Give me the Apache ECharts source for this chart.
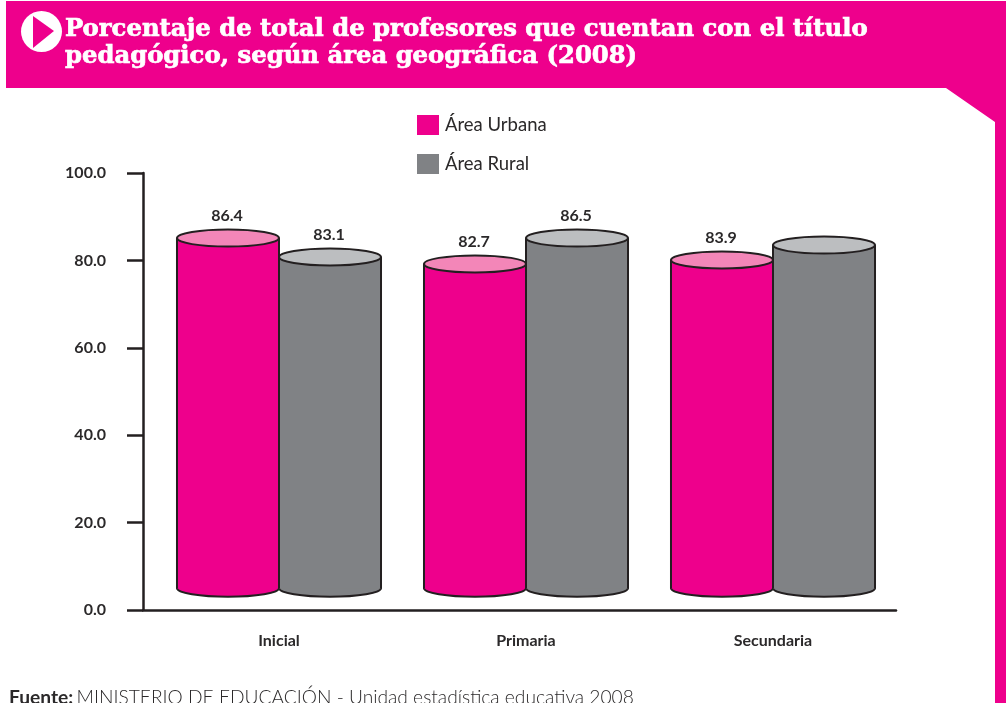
<!DOCTYPE html>
<html><head><meta charset="utf-8">
<style>html,body{margin:0;padding:0;background:#fff;overflow:hidden}#c{width:1006px;height:703px}</style>
<script src="https://cdn.jsdelivr.net/npm/echarts@6/dist/echarts.min.js"></script>
</head><body><div id="c"></div>
<script>
const categories = ['Inicial', 'Primaria', 'Secundaria'];
// Height of each cylinder's top
const urbanaTops = [85.1, 79.2, 80.1];
const ruralTops = [80.8, 85.1, 83.5];
// Numbers printed above the cylinders (the last rural one has none)
const urbanaLabels = ['86.4', '82.7', '83.9'];
const ruralLabels = ['83.1', '86.5', ''];
const cylinderBase = 5;
const yTicks = {min: 0, max: 100, interval: 20};

const PINK = '#EE008C', PINK_TOP = '#F386B8', GRAY = '#808285', GRAY_TOP = '#BCBEC0', INK = '#231F20', TEXT = '#2B292A';
const FONT = 'Lato, "Open Sans", sans-serif';

function cylinder(side, labels, topColor) {
  return function (params, api) {
    const i = api.value(0), band = api.size([1, 0])[0];
    const w = band * 0.413, rx = w / 2, ry = 8.5;
    const c = api.coord([i, api.value(1)]);
    const b = api.coord([i, cylinderBase]);
    const cx = c[0] + side * rx, top = c[1], bot = b[1];
    const fill = api.visual('color');
    const ln = {stroke: INK, lineWidth: 2};
    return {type: 'group', children: [
      {type: 'ellipse', shape: {cx, cy: bot, rx, ry}, style: {fill, ...ln}},
      {type: 'rect', shape: {x: cx - rx, y: top, width: w, height: bot - top}, style: {fill}},
      {type: 'line', shape: {x1: cx - rx, y1: top, x2: cx - rx, y2: bot}, style: ln},
      {type: 'line', shape: {x1: cx + rx, y1: top, x2: cx + rx, y2: bot}, style: ln},
      {type: 'ellipse', shape: {cx, cy: top, rx, ry}, style: {fill: topColor, ...ln}},
      {type: 'text', style: {x: cx - 1, y: top - 22, text: labels[i], fill: TEXT, font: 'bold 16px ' + FONT, textAlign: 'center', textVerticalAlign: 'middle'}}
    ]};
  };
}

const chart = echarts.init(document.getElementById('c'), null, {renderer: 'canvas'});
chart.setOption({
  animation: false,
  backgroundColor: '#fff',
  title: {
    left: 60, top: 11,
    text: 'Porcentaje de total de profesores que cuentan con el título\npedagógico, según área geográfica (2008)',
    textStyle: {fontFamily: '"DejaVu Serif"', fontWeight: 'bold', fontSize: 24.3, lineHeight: 27, color: '#fff', textBorderColor: '#fff', textBorderWidth: 0.7}
  },
  legend: {
    orient: 'vertical', left: 412, top: 110, itemWidth: 22, itemHeight: 20, itemGap: 19,
    itemStyle: {borderWidth: 0},
    textStyle: {fontFamily: FONT, fontSize: 18.5, color: TEXT, padding: [0, 0, 0, 1]},
    data: [{name: 'Área Urbana', icon: 'rect'}, {name: 'Área Rural', icon: 'rect'}]
  },
  grid: [
    {left: 155.5, right: 1006 - 896.5, top: 173, bottom: 93},
    {left: 143, right: 1006 - 896, top: 173, bottom: 93}
  ],
  xAxis: [
    {type: 'category', gridIndex: 0, data: categories,
      axisLine: {show: false}, axisTick: {show: false},
      axisLabel: {margin: 23, fontFamily: FONT, fontWeight: 'bold', fontSize: 16, color: TEXT}},
    {type: 'value', gridIndex: 1, min: 0, max: 1, show: true,
      axisLine: {show: true, lineStyle: {color: INK, width: 2.5}}, axisTick: {show: false}, axisLabel: {show: false}, splitLine: {show: false}}
  ],
  yAxis: [
    {type: 'value', gridIndex: 0, ...yTicks, show: false},
    {type: 'value', gridIndex: 1, ...yTicks,
      axisLine: {show: true, lineStyle: {color: INK, width: 2.5}},
      axisTick: {show: true, length: 16, lineStyle: {color: INK, width: 2.5}},
      axisLabel: {margin: 37, fontFamily: FONT, fontWeight: 'bold', fontSize: 16, color: TEXT, formatter: v => v.toFixed(1)},
      splitLine: {show: false}}
  ],
  series: [
    {type: 'custom', name: 'Área Urbana', xAxisIndex: 0, yAxisIndex: 0, itemStyle: {color: PINK},
      renderItem: cylinder(-1, urbanaLabels, PINK_TOP), data: urbanaTops.map((v, i) => [i, v]), z: 3},
    {type: 'custom', name: 'Área Rural', xAxisIndex: 0, yAxisIndex: 0, itemStyle: {color: GRAY},
      renderItem: cylinder(1, ruralLabels, GRAY_TOP), data: ruralTops.map((v, i) => [i, v]), z: 3}
  ],
  graphic: [
    {type: 'polygon', silent: true, z: -1, shape: {points: [[6, 1], [1006, 1], [1006, 703], [995, 703], [995, 122], [946, 88], [6, 88]]}, style: {fill: PINK}},
    {type: 'circle', silent: true, shape: {cx: 41.5, cy: 31.5, r: 20.5}, style: {fill: '#fff'}},
    {type: 'polygon', silent: true, shape: {points: [[33, 16], [54, 31], [33, 48]]}, style: {fill: PINK}},
    {type: 'text', silent: true, left: 9, top: 688, style: {
      rich: {b: {font: 'bold 19.2px ' + FONT, fill: TEXT}, n: {font: '300 19.2px ' + FONT, fill: TEXT}},
      text: '{b|Fuente:} {n|MINISTERIO DE EDUCACIÓN - Unidad estadística educativa 2008}'}}
  ]
});
</script></body></html>
